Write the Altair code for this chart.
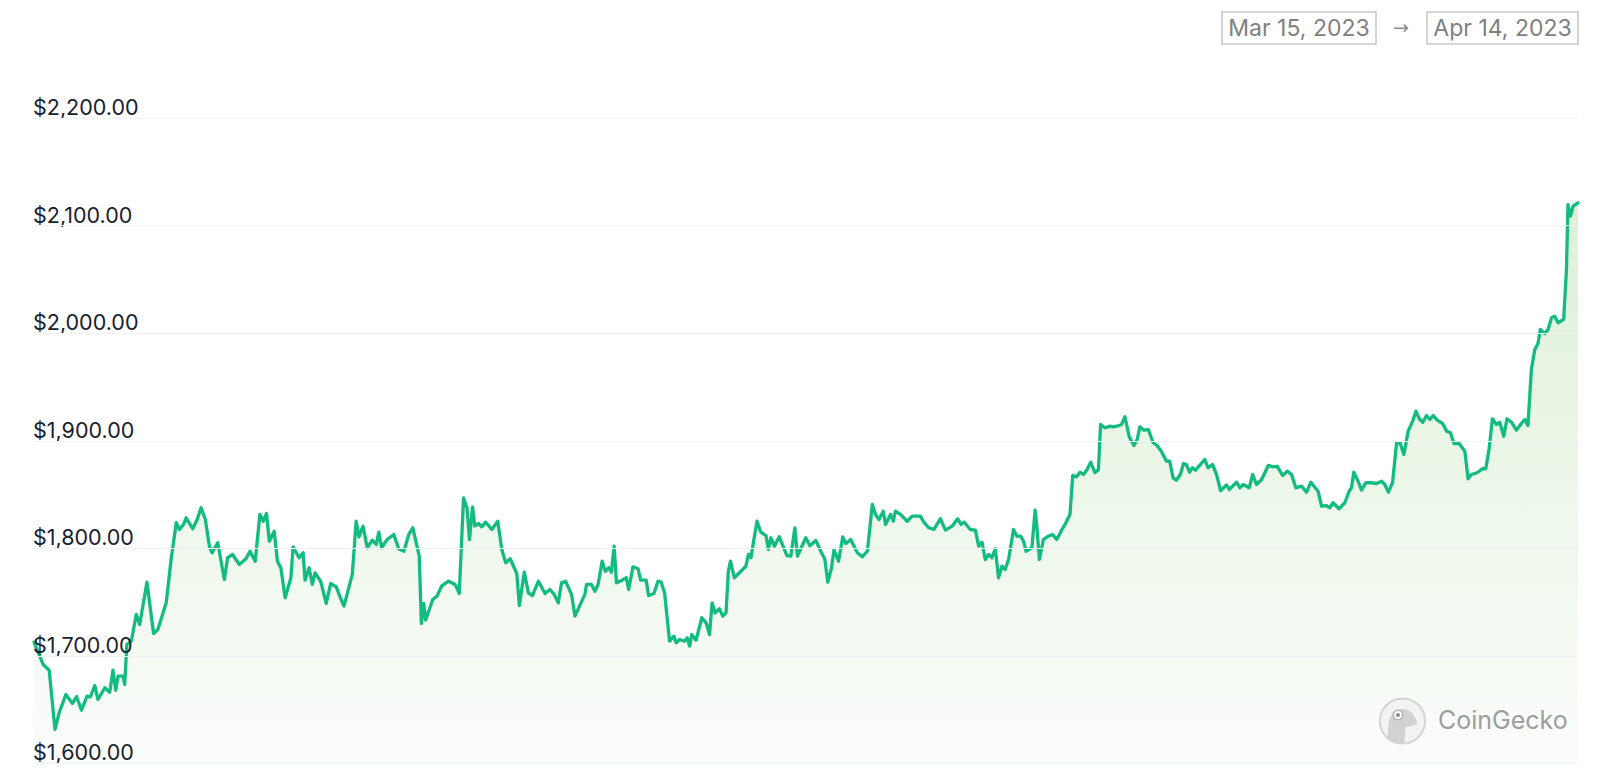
import altair as alt
import pandas as pd

# ---- data (hours since 2023-03-15 00:00, ETH price in USD) ----
hours = [
    0.5, 2.5, 4.8, 7.6, 10.3, 12.3, 15.4, 18.5, 20.4, 22.7,
    25.3, 26.9, 28.9, 30.4, 33.6, 35.9, 37.4, 38.7, 39.8, 42.1,
    42.9, 43.9, 46.0, 48.3, 49.9, 53.3, 56.4, 58.4, 62.3, 64.6,
    67.0, 68.5, 70.4, 71.6, 74.7, 76.8, 78.6, 80.6, 82.5, 83.7,
    86.4, 89.5, 91.0, 93.3, 96.5, 99.6, 101.5, 103.9, 106.1, 107.7,
    109.2, 110.5, 112.8, 114.3, 115.9, 117.9, 120.6, 121.6, 124.4, 126.3,
    127.2, 129.1, 130.6, 131.9, 134.5, 137.1, 139.2, 141.8, 143.9, 145.4,
    149.3, 151.1, 152.4, 154.3, 156.3, 158.6, 160.5, 161.7, 163.0, 165.6,
    168.7, 171.0, 173.4, 175.7, 177.6, 180.6, 181.6, 182.7, 183.6, 186.9,
    188.9, 191.1, 194.3, 197.4, 199.3, 201.3, 202.9, 204.1, 205.5, 206.6,
    208.3, 209.8, 211.7, 214.5, 217.3, 219.2, 221.0, 223.1, 226.2, 227.4,
    229.7, 231.6, 233.5, 236.3, 239.4, 241.7, 243.7, 245.6, 247.1, 249.0,
    251.8, 253.4, 258.0, 258.8, 261.1, 262.7, 264.2, 266.1, 267.6, 269.2,
    270.4, 271.7, 272.8, 275.4, 277.4, 278.5, 280.5, 282.9, 284.1, 286.7,
    287.8, 290.3, 292.2, 293.7, 295.3, 297.6, 299.7, 300.7, 302.3, 304.6,
    305.9, 307.0, 308.0, 310.0, 312.7, 314.7, 316.3, 317.5, 318.9, 320.9,
    322.5, 324.0, 325.1, 326.1, 327.9, 331.8, 333.3, 334.5, 335.7, 336.9,
    338.5, 340.3, 342.7, 343.8, 345.0, 346.6, 348.9, 352.5, 354.3, 356.2,
    357.4, 359.0, 361.3, 363.2, 366.0, 368.3, 370.2, 371.6, 373.3, 374.5,
    376.6, 378.6, 380.0, 382.3, 385.4, 387.7, 390.1, 392.4, 393.9, 395.5,
    397.5, 398.6, 400.9, 402.2, 403.2, 405.6, 408.7, 411.0, 414.9, 416.5,
    418.8, 421.2, 424.2, 426.6, 429.7, 432.3, 433.9, 435.4, 438.2, 440.6,
    442.1, 443.7, 445.2, 446.8, 448.3, 449.9, 451.4, 453.0, 454.5, 456.1,
    458.4, 460.0, 461.8, 463.1, 464.3, 467.0, 468.5, 469.3, 470.5, 472.4,
    474.7, 476.7, 478.6, 480.9, 482.5, 484.8, 486.1, 487.9, 489.5, 491.1,
    492.6, 494.5, 496.5, 498.1, 499.1, 501.1, 503.5, 505.0, 506.6, 508.9,
    510.5, 512.5, 514.7, 516.2, 517.5, 519.3, 521.4, 523.7, 525.5, 527.5,
    529.9, 531.4, 533.0, 534.5, 536.4, 537.9, 539.2, 540.7, 542.0, 543.5,
    547.8, 549.4, 551.4, 553.3, 555.2, 558.0, 559.3, 562.7, 564.2, 565.8,
    568.6, 570.2, 572.0, 574.4, 575.9, 577.5, 579.8, 581.7, 584.2, 586.4,
    588.4, 590.4, 593.1, 595.4, 597.4, 600.8, 602.4, 604.7, 606.3, 607.8,
    610.6, 613.3, 615.3, 616.4, 617.5, 619.5, 621.1, 623.1, 625.8, 628.1,
    630.5, 632.0, 633.6, 635.6, 637.5, 639.1, 640.9, 642.9, 645.0, 646.5,
    648.1, 649.7, 651.5, 653.1, 654.6, 656.5, 659.0, 660.9, 662.7, 664.3,
    666.7, 669.4, 670.9, 672.5, 675.1, 677.6, 679.2, 680.7, 682.3, 684.2,
    685.7, 687.6, 689.1, 691.2, 693.5, 695.8, 697.4, 698.9, 700.5, 702.1,
    703.6, 704.7, 706.8, 708.3, 709.9, 711.4, 713.0, 715.6, 716.9, 717.6,
    718.8, 720.0, 722.3,
]

prices = [
    1712.4, 1702.8, 1691.6, 1686.3, 1631.2, 1647.0, 1663.7, 1655.4, 1661.9, 1649.1,
    1662.2, 1661.6, 1672.1, 1659.1, 1670.0, 1665.9, 1686.3, 1667.7, 1680.8, 1680.8,
    1673.0, 1710.2, 1713.3, 1738.2, 1728.8, 1768.2, 1720.5, 1724.2, 1749.0, 1789.3,
    1823.5, 1817.2, 1821.9, 1828.1, 1817.9, 1826.5, 1837.4, 1826.5, 1801.7, 1795.5,
    1804.9, 1770.7, 1790.9, 1794.0, 1784.7, 1790.0, 1797.0, 1787.7, 1831.2, 1824.9,
    1832.1, 1806.3, 1815.6, 1787.7, 1781.6, 1753.7, 1772.3, 1801.1, 1790.9, 1795.5,
    1770.1, 1781.6, 1766.1, 1776.9, 1769.1, 1748.4, 1767.0, 1763.9, 1752.8, 1745.9,
    1775.4, 1824.9, 1810.4, 1820.3, 1800.2, 1807.3, 1803.3, 1814.7, 1800.2, 1807.9,
    1812.6, 1799.3, 1797.0, 1812.6, 1818.8, 1792.4, 1729.8, 1748.4, 1733.0, 1752.1,
    1755.2, 1764.7, 1769.1, 1766.1, 1757.7, 1846.5, 1837.4, 1807.9, 1838.3, 1820.5,
    1822.8, 1819.7, 1824.0, 1817.2, 1824.9, 1798.6, 1786.2, 1790.0, 1776.3, 1746.5,
    1777.5, 1758.3, 1755.8, 1769.1, 1757.7, 1761.4, 1756.8, 1749.0, 1767.6, 1769.1,
    1756.8, 1736.6, 1756.8, 1766.1, 1766.1, 1759.8, 1766.1, 1787.7, 1778.4, 1781.6,
    1777.5, 1801.7, 1767.6, 1770.1, 1772.3, 1761.4, 1782.5, 1780.7, 1770.1, 1770.1,
    1755.8, 1757.7, 1769.1, 1768.2, 1758.3, 1713.3, 1718.0, 1711.8, 1714.9, 1713.3,
    1716.5, 1708.7, 1719.5, 1714.2, 1735.1, 1730.4, 1719.5, 1749.0, 1739.7, 1743.5,
    1736.6, 1739.7, 1778.4, 1787.7, 1772.3, 1780.0, 1783.1, 1794.0, 1790.9, 1806.3,
    1824.9, 1814.7, 1811.6, 1798.6, 1809.5, 1801.7, 1810.4, 1793.0, 1792.4, 1818.8,
    1792.4, 1799.5, 1809.5, 1802.1, 1807.0, 1797.0, 1789.8, 1768.2, 1781.2, 1798.3,
    1787.7, 1810.4, 1804.2, 1807.9, 1795.5, 1791.8, 1797.0, 1840.5, 1831.2, 1826.5,
    1834.2, 1821.9, 1831.2, 1824.9, 1834.2, 1831.2, 1824.9, 1829.6, 1829.6, 1824.0,
    1818.8, 1817.2, 1827.2, 1816.6, 1820.3, 1827.2, 1821.9, 1824.0, 1817.2, 1816.6,
    1801.7, 1805.4, 1789.3, 1794.0, 1790.9, 1799.3, 1772.3, 1783.1, 1780.0, 1789.3,
    1817.2, 1811.0, 1811.0, 1806.3, 1797.0, 1800.2, 1835.2, 1820.3, 1789.3, 1807.9,
    1811.0, 1812.6, 1807.9, 1816.6, 1821.9, 1831.2, 1867.5, 1866.2, 1870.5, 1868.4,
    1872.4, 1879.8, 1870.0, 1873.0, 1914.9, 1911.8, 1913.3, 1912.7, 1913.3, 1914.9,
    1922.1, 1903.5, 1895.4, 1900.9, 1912.7, 1909.6, 1910.2, 1897.9, 1895.4, 1890.1,
    1880.8, 1880.8, 1865.3, 1863.1, 1868.4, 1878.6, 1877.7, 1870.5, 1874.6, 1872.4,
    1882.3, 1874.6, 1877.7, 1868.4, 1853.3, 1858.6, 1854.4, 1861.2, 1856.0, 1859.1,
    1856.0, 1868.4, 1859.1, 1863.7, 1870.0, 1876.8, 1875.5, 1876.0, 1867.5, 1871.5,
    1868.4, 1856.0, 1857.5, 1851.9, 1861.2, 1852.8, 1838.9, 1839.5, 1837.4, 1842.1,
    1836.5, 1842.1, 1852.8, 1856.0, 1870.5, 1862.1, 1853.8, 1860.7, 1860.7, 1860.0,
    1862.1, 1859.1, 1851.9, 1860.7, 1897.9, 1897.9, 1887.0, 1908.7, 1918.0, 1927.3,
    1920.2, 1917.0, 1923.3, 1919.5, 1923.3, 1918.9, 1915.8, 1908.7, 1907.2, 1897.2,
    1897.2, 1890.1, 1864.4, 1868.4, 1870.0, 1873.7, 1873.7, 1891.6, 1920.2, 1914.9,
    1917.0, 1904.0, 1920.2, 1917.0, 1909.6, 1915.8, 1919.5, 1914.0, 1966.1, 1984.7,
    1990.2, 2003.3, 1999.5, 2003.3, 2014.1, 2015.6, 2009.5, 2012.6, 2059.1, 2119.5,
    2108.7, 2118.0, 2121.1,
]

tick_values = [1600, 1700, 1800, 1900, 2000, 2100, 2200]
tick_labels = ["$1,600.00", "$1,700.00", "$1,800.00", "$1,900.00",
               "$2,000.00", "$2,100.00", "$2,200.00"]

date_from = "Mar 15, 2023"
date_to = "Apr 14, 2023"
brand = "CoinGecko"

# ---- build tables ----
n = min(len(hours), len(prices))
df = pd.DataFrame({
    "time": pd.Timestamp("2023-03-15") + pd.to_timedelta(hours[:n], unit="h"),
    "price": prices[:n],
})
labels_df = pd.DataFrame({"price": tick_values, "label": tick_labels})

W, H = 1544, 645
GREEN = "#12bb80"
FONT = "Inter"

x_enc = alt.X("time:T", axis=None, scale=alt.Scale(nice=False, padding=0))
y_scale = alt.Scale(domain=[1600, 2200], nice=False, zero=False)

area = alt.Chart(df).mark_area(
    color=alt.Gradient(
        gradient="linear",
        stops=[alt.GradientStop(color="#ddf0d6", offset=0),
               alt.GradientStop(color="#fbfdfb", offset=1)],
        x1=1, x2=1, y1=0, y2=1,
    ),
    clip=True,
).encode(
    x=x_enc,
    y=alt.Y("price:Q", scale=y_scale, title=None,
            axis=alt.Axis(values=tick_values, labels=False, ticks=False,
                          domain=False, grid=True, gridColor="#eef0f2",
                          gridWidth=1.2, zindex=1)),
    y2=alt.datum(1600),
)

line = alt.Chart(df).mark_line(
    color=GREEN, strokeWidth=3.3, strokeJoin="round", strokeCap="round"
).encode(x=x_enc, y=alt.Y("price:Q", scale=y_scale))

ylabels = alt.Chart(labels_df).mark_text(
    align="left", baseline="alphabetic", dy=-3, font=FONT, fontSize=21.5,
    color="#18212f",
).encode(
    x=alt.value(-1),
    y=alt.Y("price:Q", scale=y_scale),
    text="label:N",
)

one = pd.DataFrame({"k": [0]})

box_style = dict(fill="#ffffff", stroke="#c6c6c6", strokeWidth=1.5)
box1 = alt.Chart(one).mark_rect(**box_style).encode(
    x=alt.value(1188), x2=alt.value(1342), y=alt.value(-106), y2=alt.value(-74))
box2 = alt.Chart(one).mark_rect(**box_style).encode(
    x=alt.value(1393), x2=alt.value(1544), y=alt.value(-106), y2=alt.value(-74))

txt_style = dict(font=FONT, fontSize=23, color="#808080", baseline="middle", align="center")
t1 = alt.Chart(one).mark_text(text=date_from, **txt_style).encode(
    x=alt.value(1265), y=alt.value(-89))
t2 = alt.Chart(one).mark_text(text=date_to, **txt_style).encode(
    x=alt.value(1468.5), y=alt.value(-89))
arrow = alt.Chart(one).mark_text(text="→", font="DejaVu Sans", fontSize=19,
                                 color="#8a8a8a", baseline="middle", align="center").encode(
    x=alt.value(1367), y=alt.value(-90))

# watermark
logo_bg = alt.Chart(one).mark_circle(size=2040, color="#f3f3f3", opacity=1,
                                     stroke="#d4d4d4", strokeWidth=2).encode(
    x=alt.value(1368.5), y=alt.value(603))
gecko_path = ("M-0.62,0.78 L-0.58,0.12 Q-0.5,-0.42 -0.02,-0.5 Q0.38,-0.48 0.52,-0.12 "
              "L0.62,0.1 Q0.45,0.22 0.12,0.24 L0.08,0.88 Q-0.3,0.95 -0.62,0.78 Z")
gecko = alt.Chart(one).mark_point(shape=gecko_path, size=2400, filled=True,
                                  color="#d2d2d2", opacity=1).encode(
    x=alt.value(1368.5), y=alt.value(603))
eye_w = alt.Chart(one).mark_circle(size=95, color="#ffffff", opacity=1,
                                   stroke="#b5b5b5", strokeWidth=1.5).encode(
    x=alt.value(1364), y=alt.value(597))
eye_d = alt.Chart(one).mark_circle(size=18, color="#8e8e8e", opacity=1).encode(
    x=alt.value(1364), y=alt.value(597))
brand_txt = alt.Chart(one).mark_text(text=brand, font=FONT, fontSize=25,
                                     color="#9d9d9d", align="left", baseline="middle").encode(
    x=alt.value(1404), y=alt.value(603))

chart = alt.layer(
    area, line, ylabels, box1, box2, t1, t2, arrow,
    logo_bg, gecko, eye_w, eye_d, brand_txt,
).properties(
    width=W, height=H,
    background="#ffffff",
    autosize=alt.AutoSizeParams(type="none"),
    padding={"left": 26, "top": 110, "right": 8, "bottom": 2},
).configure_view(strokeWidth=0, stroke="transparent")

chart.save("out.html", embed_options={"renderer": "svg", "actions": False})
